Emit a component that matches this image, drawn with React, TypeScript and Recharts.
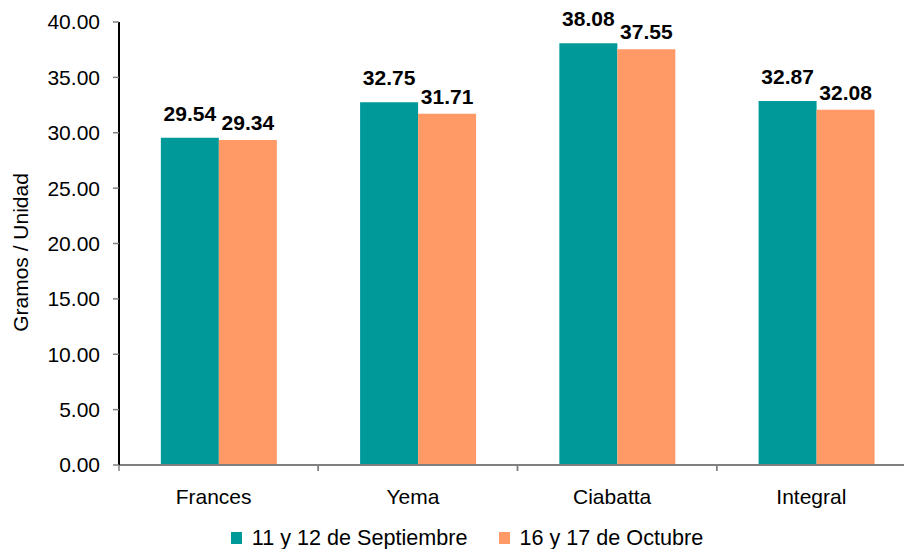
import React from 'react';
import { BarChart, Bar, XAxis, YAxis, Legend, LabelList } from 'recharts';

const categories = ['Frances', 'Yema', 'Ciabatta', 'Integral'];
const septiembre = [29.54, 32.75, 38.08, 32.87];
const octubre = [29.34, 31.71, 37.55, 32.08];
const yTicks = [0, 5, 10, 15, 20, 25, 30, 35, 40];
const seriesNames = ['11 y 12 de Septiembre', '16 y 17 de Octubre'];
const seriesColors = ['#009999', '#FF9966'];

const data = categories.map((name, i) => ({ name, sep: septiembre[i], oct: octubre[i] }));

const CHART_W = 930;
const CHART_H = 553;
const MARGIN = { top: 22, right: 14, bottom: 0, left: 0 };
const Y_AXIS_W = 119;
const BAND = (CHART_W - MARGIN.left - MARGIN.right - Y_AXIS_W) / categories.length;
const FONT = '"Liberation Sans", Arial, sans-serif';
const X_TICK_SIZE = 6;
const X_TICK_MARGIN = 18;
const LEGEND_H = 30;

const XTick = (props: any) => {
  const { x, y, payload } = props;
  const y1 = y - X_TICK_MARGIN - X_TICK_SIZE;
  return (
    <g>
      <line x1={x - BAND / 2} x2={x - BAND / 2} y1={y1} y2={y1 + X_TICK_SIZE} stroke="#808080" strokeWidth={1.5} />
      <line x1={x + BAND / 2} x2={x + BAND / 2} y1={y1} y2={y1 + X_TICK_SIZE} stroke="#808080" strokeWidth={1.5} />
      <text x={x} y={y} dx={-5} dy="0.71em" textAnchor="middle" fill="#000" fontSize={21} fontFamily={FONT}>
        {payload.value}
      </text>
    </g>
  );
};

const YLabel = (props: any) => {
  const vb = props.viewBox || { x: 0, y: 0, width: 0, height: 0 };
  const cx = vb.x + 20;
  const cy = vb.y + vb.height / 2 + 9;
  return (
    <text
      x={cx}
      y={cy}
      transform={`rotate(-90, ${cx}, ${cy})`}
      textAnchor="middle"
      dominantBaseline="central"
      fill="#000"
      fontSize={21}
      fontFamily={FONT}
    >
      Gramos / Unidad
    </text>
  );
};

const LegendContent = () => (
  <div
    style={{
      display: 'flex',
      justifyContent: 'center',
      alignItems: 'center',
      height: LEGEND_H,
      paddingLeft: 18,
      fontFamily: FONT,
      fontSize: 21.6,
      color: '#000',
    }}
  >
    {seriesNames.map((n, i) => (
      <div key={n} style={{ display: 'flex', alignItems: 'center', marginRight: i === 0 ? 31 : 0 }}>
        <span style={{ display: 'inline-block', width: 11, height: 12, background: seriesColors[i], marginRight: 10 }} />
        <span>{n}</span>
      </div>
    ))}
  </div>
);

const labelStyle = { fontWeight: 'bold', fontSize: 21, fontFamily: FONT, fill: '#000' };

export default function App() {
  return (
    <div style={{ position: 'absolute', left: 0, top: 0, width: 904, height: 549, overflow: 'hidden', background: '#fff' }}>
      <BarChart width={CHART_W} height={CHART_H} data={data} margin={MARGIN} barGap={0} barCategoryGap="21%">
        <XAxis
          dataKey="name"
          axisLine={{ stroke: '#808080', strokeWidth: 2 }}
          tickLine={false}
          tickSize={X_TICK_SIZE}
          tickMargin={X_TICK_MARGIN}
          height={CHART_H - LEGEND_H - 465}
          tick={<XTick />}
          interval={0}
        />
        <YAxis
          width={Y_AXIS_W}
          domain={[0, 40]}
          ticks={yTicks}
          interval={0}
          tickFormatter={(v: number) => v.toFixed(2)}
          axisLine={{ stroke: '#000', strokeWidth: 2 }}
          tickLine={{ stroke: '#808080', strokeWidth: 1.5 }}
          tickSize={6}
          tickMargin={13}
          tick={{ fill: '#000', fontSize: 21, fontFamily: FONT }}
          label={<YLabel />}
        />
        <Legend verticalAlign="bottom" content={<LegendContent />} wrapperStyle={{ height: LEGEND_H }} />
        <Bar dataKey="sep" name={seriesNames[0]} fill={seriesColors[0]} isAnimationActive={false}>
          <LabelList
            dataKey="sep"
            position="top"
            offset={17}
            formatter={(v: any) => Number(v).toFixed(2)}
            style={labelStyle}
          />
        </Bar>
        <Bar dataKey="oct" name={seriesNames[1]} fill={seriesColors[1]} isAnimationActive={false}>
          <LabelList
            dataKey="oct"
            position="top"
            offset={10}
            formatter={(v: any) => Number(v).toFixed(2)}
            style={labelStyle}
          />
        </Bar>
      </BarChart>
    </div>
  );
}
